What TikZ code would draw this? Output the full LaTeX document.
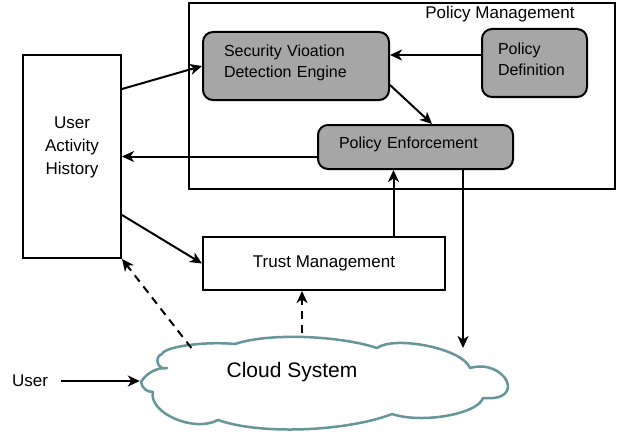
\documentclass[tikz,border=0pt]{standalone}
\usepackage{fontspec}
\setmainfont{Liberation Sans}
\usepackage{xcolor}
\usepackage{tikz}
\usetikzlibrary{shapes,arrows.meta}

\definecolor{boxgray}{HTML}{A6A6A6}
\definecolor{cloudline}{HTML}{66959A}

\begin{document}
\begin{tikzpicture}[x=1pt,y=-1pt]

    % layout in pixels, y grows downwards

    \edef\sizeline{2pt}
    \tikzstyle{plainbox}=[draw,rectangle,line width=\sizeline,font=\fontsize{17}{23}\selectfont]
    \tikzstyle{graybox}=[draw,rectangle,rounded corners=10pt,fill=boxgray,line width=\sizeline,align=left,font=\fontsize{16}{21}\selectfont]
    \tikzstyle{cloudpath}=[draw=cloudline,fill=white,line width=2.5pt,line join=round]
    \tikzstyle{arr}=[-{Stealth[length=12pt,width=11pt,inset=3.5pt]},line width=\sizeline]
    \tikzstyle{dasharr}=[arr,dash pattern=on 8pt off 6pt]

    \useasboundingbox (0,0) rectangle (617,433);

    \node [plainbox,minimum width=426pt,minimum height=186pt] (policy) at (402,96) {};
    \node [font=\fontsize{17}{20}\selectfont] (policylabel) at (500,14) {Policy Management};

    \node [graybox,minimum width=186pt,minimum height=68pt,text width=144pt,text depth=31pt] (detect) at (296,66) {Security Vioation\\Detection Engine};
    \node [graybox,minimum width=105pt,minimum height=68pt,text width=73pt,text depth=29pt] (define) at (534.5,63) {Policy\\Definition};
    \node [graybox,minimum width=195pt,minimum height=44pt,text width=153pt,text depth=9pt] (enforce) at (415.5,147) {Policy Enforcement};

    \node [plainbox,minimum width=98pt,minimum height=203pt,align=center,text depth=22pt] (history) at (72,156.5) {User\\Activity\\History};
    \node [plainbox,minimum width=242pt,minimum height=53pt] (trust) at (324,263.5) {Trust Management};

    % cloud outline, puff by puff
    \draw[cloudpath] (141,382)
        .. controls (146.3,373.1) and (156.7,367.5) .. (167,368)
        .. controls (158,371) and (153.3,357.1) .. (162,354)
        .. controls (164.6,346.6) and (204.8,341.1) .. (235,344)
        .. controls (270.5,332.1) and (341.5,336.1) .. (377,348)
        .. controls (394.4,335.4) and (462,348) .. (470,368)
        .. controls (505,358) and (528,402) .. (483,398)
        .. controls (478,414) and (421.9,424) .. (392,414)
        .. controls (348.5,431) and (261.5,435.5) .. (218,420)
        .. controls (193,433.2) and (148,412) .. (153,392)
        .. controls (146.8,392.1) and (142,388.1) .. cycle;
    \node [ellipse,inner sep=0pt,minimum width=368pt,minimum height=95pt] (cloud) at (324,381) {};
    \node [font=\fontsize{21}{25}\selectfont] (cloudtext) at (292,372) {Cloud System};
    \node [font=\fontsize{17}{20}\selectfont] (user) at (30,381) {User};
    \coordinate (drop) at (463,348);

    \draw[arr] ([yshift=-35pt]history.north east) -- (detect.west);
    \draw[arr] ([yshift=8pt]define.west) -- ([yshift=11pt]detect.east);
    \draw[arr] ([yshift=-19pt]detect.east) -- ([xshift=16.5pt]enforce.north);
    \draw[arr] (enforce.west |- history.east) -- (history.east);
    \draw[arr] ([yshift=44pt]history.south east) -- (trust.west);
    \draw[arr] ([xshift=-22pt]enforce.south |- trust.north) -- ([xshift=-22pt]enforce.south);
    \draw[arr] ([xshift=47.5pt]enforce.south) -- (drop);
    \draw[dasharr] ([xshift=-22pt]cloud.north) -- ([xshift=-22pt]trust.south);
    \draw[dasharr] (cloud.166) -- (history.south east);
    \draw[arr] ([xshift=10pt]user.east) -- (cloud.west);

\end{tikzpicture}
\end{document}
